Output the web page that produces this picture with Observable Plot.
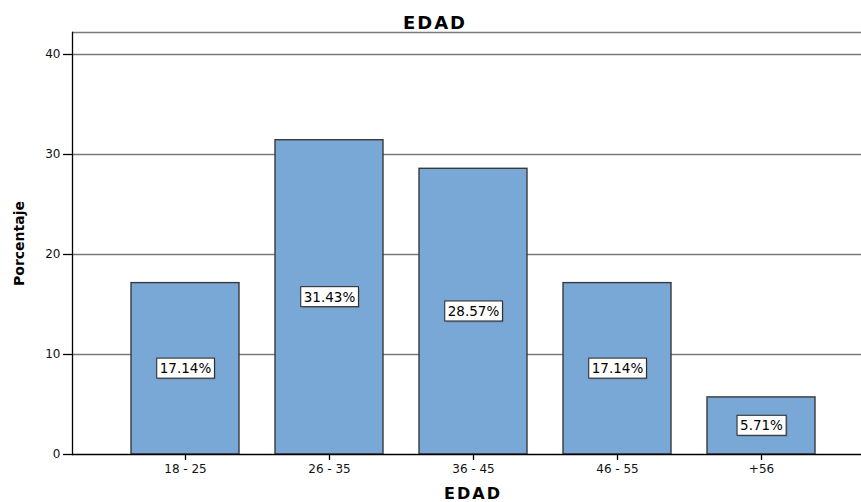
<!DOCTYPE html>
<html><head><meta charset="utf-8">
<script src="https://cdn.jsdelivr.net/npm/d3@7"></script>
<script src="https://cdn.jsdelivr.net/npm/@observablehq/plot@0.6"></script>
<style>body{margin:0;background:#fff} svg{display:block}</style>
</head><body><div id="chart"></div>
<script>
const categories = ["18 - 25", "26 - 35", "36 - 45", "46 - 55", "+56"];
const percentages = [17.14, 31.43, 28.57, 17.14, 5.71];
const yTicks = [0, 10, 20, 30, 40];
const yMax = 42.2;
const chartTitle = "EDAD";
const xLabel = "EDAD";
const yLabel = "Porcentaje";

const data = categories.map((c, i) => ({edad: c, pct: percentages[i]}));

const chart = Plot.plot({
  width: 861, height: 502,
  marginTop: 32, marginBottom: 48, marginLeft: 72, marginRight: 0,
  style: {fontFamily: "DejaVu Sans", fontSize: "12px", background: "#fff", color: "#111"},
  x: {domain: categories, range: [72, 873], paddingInner: 0.25, paddingOuter: 0.4, label: null},
  y: {domain: [0, yMax], label: null},
  marks: [
    Plot.ruleY(yTicks.filter(d => d > 0), {stroke: "#7a7a7a", strokeWidth: 1.5}),
    Plot.ruleY([yMax], {stroke: "#7a7a7a", strokeWidth: 1.5}),
    Plot.barY(data, {x: "edad", y: "pct", fill: "#79a7d6", stroke: "#3a3a3a", strokeWidth: 1.4}),
    Plot.frame({anchor: "left", stroke: "#000", strokeWidth: 1.3}),
    Plot.ruleY([0], {stroke: "#000", strokeWidth: 1.3}),
    Plot.axisX({tickSize: 6, tickPadding: 4, fontSize: 12, stroke: "#000", strokeWidth: 1.3}),
    Plot.axisY({ticks: yTicks, tickSize: 9, tickPadding: 3, fontSize: 12, stroke: "#000", strokeWidth: 1.3}),
    Plot.text(data, {x: "edad", y: d => d.pct / 2, text: d => d.pct.toFixed(2) + "%", fontSize: 13.5, fill: "#000"}),
    Plot.text([chartTitle], {frameAnchor: "top", dx: -32, dy: -4, lineAnchor: "bottom", fontSize: 18, fontWeight: "bold", fill: "#000"}),
    Plot.text([xLabel], {frameAnchor: "bottom", dx: 6, dy: 44, lineAnchor: "bottom", fontSize: 16, fontWeight: "bold", fill: "#000"}),
    Plot.text([yLabel], {frameAnchor: "left", dx: -53, rotate: -90, textAnchor: "middle", fontSize: 14, fontWeight: "bold", fill: "#000"})
  ]
});
document.getElementById("chart").appendChild(chart);

const textGroups = chart.querySelectorAll('g[aria-label="text"]');
const valueGroup = textGroups[0];
// letter spacing for titles
[textGroups[1], textGroups[2]].forEach(g => g && g.querySelectorAll("text").forEach(t => t.style.letterSpacing = "2px"));

// white boxes behind the value labels
const ns = "http://www.w3.org/2000/svg";
valueGroup.querySelectorAll("text").forEach(t => {
  const b = t.getBBox();
  const tr = t.getAttribute("transform");
  const padX = 3, padY = 2;
  const mk = (off, fill, stroke) => {
    const r = document.createElementNS(ns, "rect");
    r.setAttribute("x", b.x - padX + off);
    r.setAttribute("y", b.y - padY + off);
    r.setAttribute("width", b.width + 2 * padX);
    r.setAttribute("height", b.height + 2 * padY);
    r.setAttribute("fill", fill);
    r.setAttribute("stroke", stroke);
    r.setAttribute("stroke-width", "1");
    if (tr) r.setAttribute("transform", tr);
    t.parentNode.insertBefore(r, t);
  };
  mk(1.5, "#6f8fae", "none");
  mk(0, "#fff", "#222");
});
</script>
</body></html>
